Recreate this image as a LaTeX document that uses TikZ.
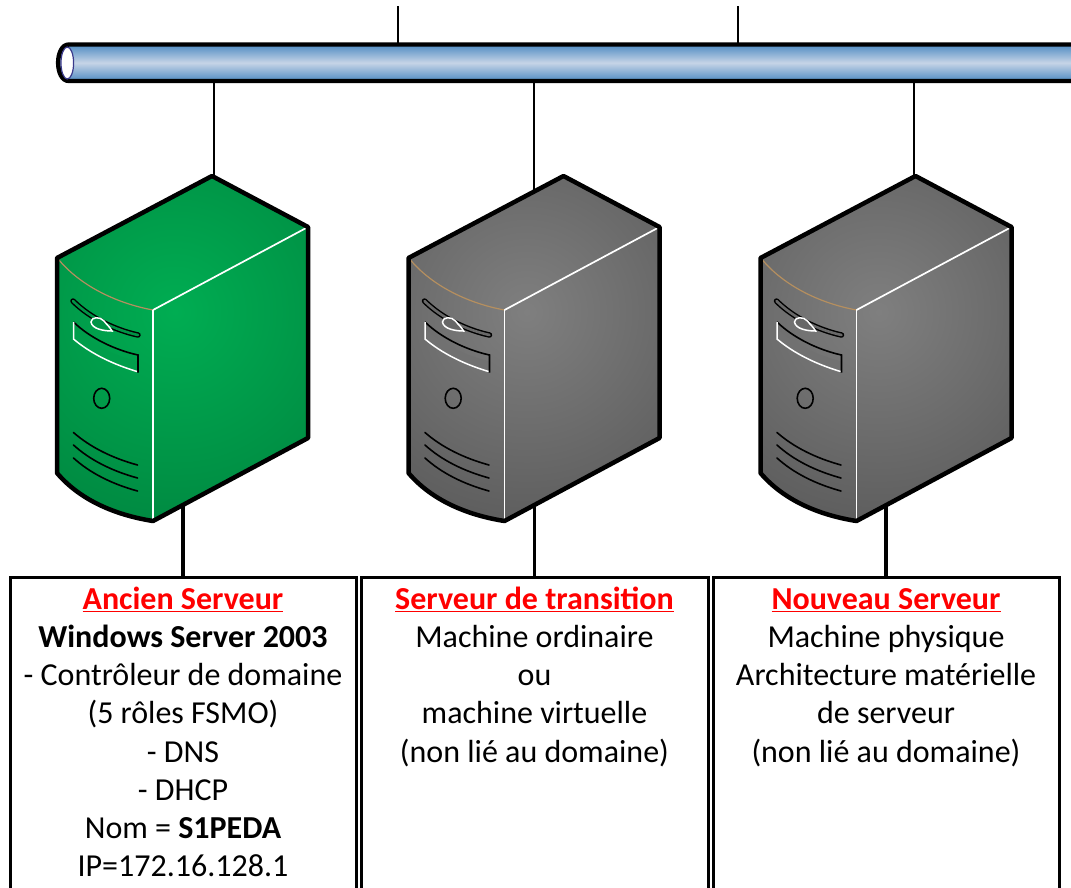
\documentclass[tikz,border=0pt]{standalone}
\usepackage{fontspec}
\setmainfont{Carlito}
\definecolor{pipeEdge}{HTML}{4F8BC2}
\definecolor{pipeMid}{HTML}{C6D4E7}
\definecolor{ringBlue}{HTML}{3A3A8C}
\definecolor{greenIn}{HTML}{00AD52}
\definecolor{greenOut}{HTML}{007C3B}
\definecolor{greyIn}{HTML}{7F7F7F}
\definecolor{greyOut}{HTML}{505050}
\definecolor{arcBrown}{HTML}{B58F5F}
\definecolor{titleRed}{HTML}{FF0000}
\newcommand{\firstline}{\rule{0pt}{24pt}}
\tikzset{
  thinlink/.style={line width=2pt,black},
  thicklink/.style={line width=3.2pt,black},
  infobox/.style={draw=black,line width=3pt,fill=white,rectangle,anchor=north west,minimum height=340pt,inner sep=0pt,outer sep=0pt},
  infotext/.style={anchor=north,align=flush center,inner sep=0pt,font=\fontsize{32}{38.2}\selectfont,text=black},
  caseline/.style={line width=4.5pt,line join=round,black},
  whiteedge/.style={line width=1.7pt,white},
  detail/.style={line width=1.6pt,black,line cap=round}
}
% #1 x shift, #2 inner colour, #3 outer colour
\newcommand{\serverbox}[3]{%
\begin{scope}[xshift=#1pt]
  \begin{scope}
    \clip (57,258) -- (212,176) -- (308,227) -- (308,438) -- (153,521) .. controls (115,515) and (80,500) .. (57,473) -- cycle;
    \fill[#3] (40,160) rectangle (320,530);
    \shade[inner color=#2,outer color=#3] (175,312) circle (300pt);
  \end{scope}
  \draw[line width=1.2pt,arcBrown] (59,260) .. controls (80,285) and (115,303) .. (153,310);
  \draw[whiteedge] (153,310) -- (308,227);
  \draw[whiteedge] (153,310) -- (153,521);
  % slot
  \draw[line width=5.5pt,black,line cap=round] (73,301) .. controls (90,318) and (115,330) .. (138,335);
  \draw[line width=2.6pt,#2!50!#3,line cap=round] (73,301) .. controls (90,318) and (115,330) .. (138,335);
  % eye
  \draw[line width=1.5pt,white,fill=#2!50!#3] (91,322) .. controls (91,317) and (100,316) .. (104,321) .. controls (107,325) and (110,327) .. (112,331) .. controls (104,331) and (92,329) .. (91,322) -- cycle;
  % bay
  \fill[#2!70!#3] (74,329) .. controls (90,344) and (115,356) .. (137,361) -- (137,371) .. controls (112,364) and (90,353) .. (74,339) -- cycle;
  \draw[line width=1.6pt,black] (73.5,322) .. controls (90,338) and (115,350) .. (138,355) -- (138,372.5);
  \draw[line width=1.5pt,white] (73.5,322) -- (73.5,339) .. controls (90,353) and (112,364) .. (137,371.5);
  % button
  \draw[line width=1.6pt,black] (101.7,398.3) ellipse [x radius=8pt,y radius=10pt];
  % vents
  \draw[detail] (73.5,432.5) .. controls (90,447) and (112,458) .. (137.5,465);
  \draw[detail] (73.5,445) .. controls (90,460) and (112,471) .. (137.5,478);
  \draw[detail] (73.5,458) .. controls (90,473) and (112,484) .. (137.5,491);
  % outline
  \draw[caseline] (57,258) -- (212,176) -- (308,227) -- (308,438) -- (153,521) .. controls (115,515) and (80,500) .. (57,473) -- cycle;
\end{scope}}
\begin{document}
\begin{tikzpicture}[x=1pt,y=-1pt]
\useasboundingbox (0,0) rectangle (1071,887);
\clip (0,0) rectangle (1071,887);
% free ends and attachment points
\coordinate (upA) at (398.3,6);
\coordinate (upB) at (738.3,6);
\coordinate (busA) at (398.3,44);
\coordinate (busB) at (738.3,44);
\coordinate (bus1) at (214.3,82);
\coordinate (bus2) at (534.3,82);
\coordinate (bus3) at (914.3,82);
\coordinate (srv1top) at (214.3,180);
\coordinate (srv2top) at (534.3,195);
\coordinate (srv3top) at (914.3,195);
\coordinate (srv1low) at (183,500);
\coordinate (srv2low) at (534.5,500);
\coordinate (srv3low) at (886,500);
% boxes
\node[infobox,minimum width=346pt] (box1) at (10,577) {};
\node[infobox,minimum width=347pt] (box2) at (361,577) {};
\node[infobox,minimum width=346pt] (box3) at (713,577) {};
% connectors
\draw[thinlink] (upA) -- (busA);
\draw[thinlink] (upB) -- (busB);
\draw[thinlink] (bus1) -- (srv1top);
\draw[thinlink] (bus2) -- (srv2top);
\draw[thinlink] (bus3) -- (srv3top);
\draw[thicklink] (srv1low) -- (box1.north);
\draw[thicklink] (srv2low) -- (box2.north);
\draw[thicklink] (srv3low) -- (box3.north);
% bus pipe
\shade[top color=pipeEdge,bottom color=pipeEdge,middle color=pipeMid] (1080,44.5) -- (69,44.5) .. controls (54,44.5) and (54,81) .. (69,81) -- (1080,81) -- cycle;
\draw[line width=4.4pt,black] (1080,44.5) -- (69,44.5) .. controls (54.5,44.5) and (54.5,81) .. (69,81) -- (1080,81);
\draw[line width=1.2pt,ringBlue,fill=white] (67.3,63) ellipse [x radius=6.3pt,y radius=16pt];
% servers
\serverbox{0}{greenIn}{greenOut}
\serverbox{351.5}{greyIn}{greyOut}
\serverbox{703.5}{greyIn}{greyOut}
% texts
\node[infotext,text width=345pt] (txt1) at ([yshift=-8pt]box1.north) {%
  \firstline{\color{titleRed}\underline{\textbf{Ancien Serveur}}}\\
  \textbf{Windows Server 2003}\\
  - Contrôleur de domaine\\
  (5 rôles FSMO)\\
  - DNS\\
  - DHCP\\
  Nom = \textbf{S1PEDA}\\
  IP=172.16.128.1};
\node[infotext,text width=345pt] (txt2) at ([yshift=-8pt]box2.north) {%
  \firstline{\color{titleRed}\underline{\textbf{Serveur de transition}}}\\
  Machine ordinaire\\
  ou\\
  machine virtuelle\\
  (non lié au domaine)};
\node[infotext,text width=345pt] (txt3) at ([yshift=-8pt]box3.north) {%
  \firstline{\color{titleRed}\underline{\textbf{Nouveau Serveur}}}\\
  Machine physique\\
  Architecture matérielle\\
  de serveur\\
  (non lié au domaine)};
\end{tikzpicture}
\end{document}
